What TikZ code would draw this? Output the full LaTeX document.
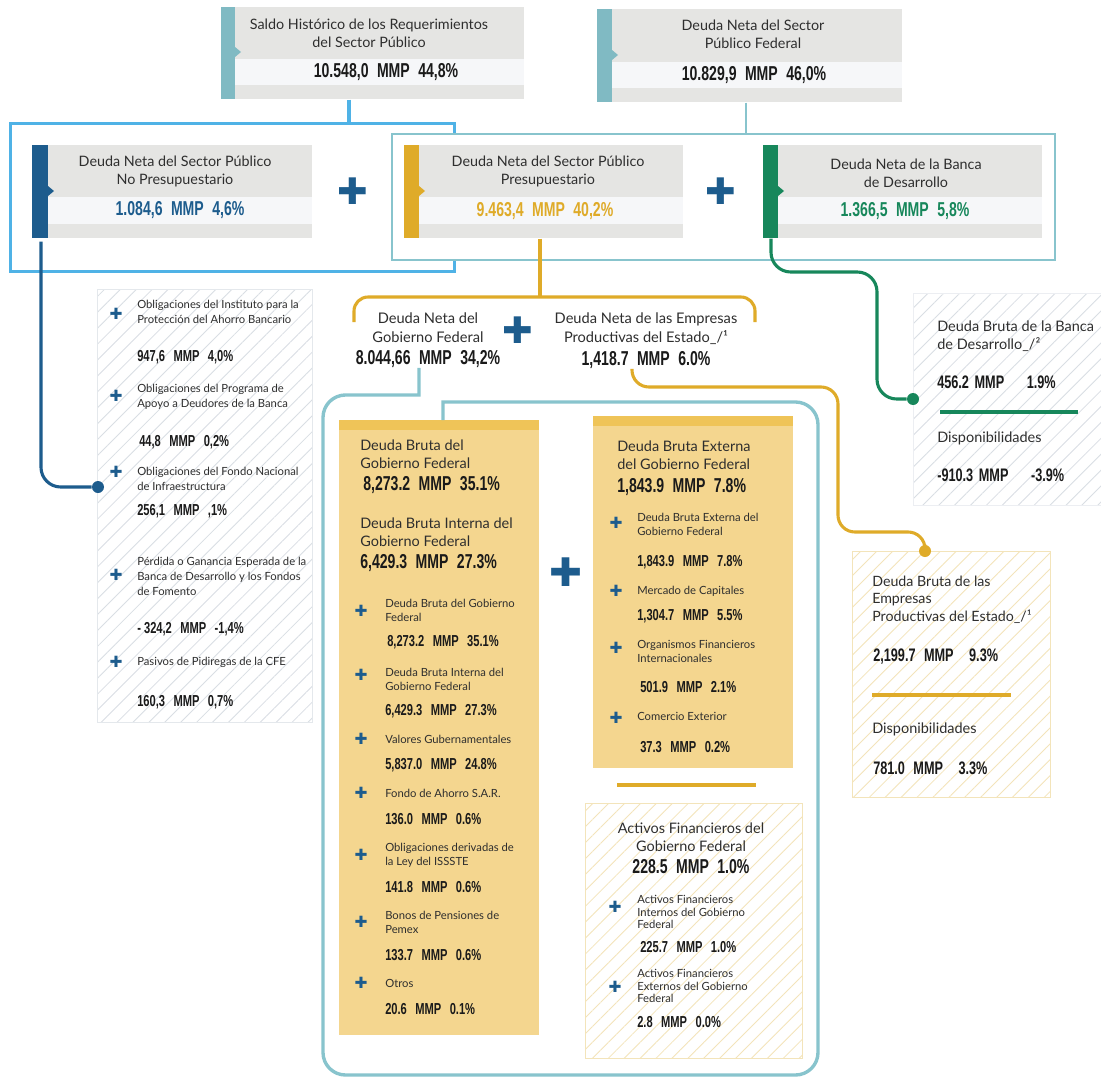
\documentclass[tikz,border=0pt]{standalone}
\usepackage{fontspec}
\setmainfont{Lato}
\newfontfamily\numfont[FakeStretch=0.7]{Liberation Sans}
\newfontfamily\symfont{DejaVu Sans}
\usepackage{tikz}
\usetikzlibrary{positioning,calc,patterns.meta}
\definecolor{tealbar}{HTML}{80BAC3}
\definecolor{tealln}{HTML}{88C4CD}
\definecolor{skyln}{HTML}{4FB2E6}
\definecolor{navy}{HTML}{1D5C8D}
\definecolor{mustard}{HTML}{DFAB29}
\definecolor{bgreen}{HTML}{17875B}
\definecolor{ylfill}{HTML}{F4D68F}
\definecolor{ylstripe}{HTML}{EFC458}
\definecolor{boxgray}{HTML}{E5E5E3}
\definecolor{bandwhite}{HTML}{F6F7F9}
\definecolor{hatchgray}{HTML}{D9DEE4}
\definecolor{hatchyl}{HTML}{F3E4BA}
\definecolor{ink}{HTML}{2E2E2E}
\definecolor{numink}{HTML}{1A1A1A}
\newdimen\px \px=0.025cm
\newcommand{\mmp}[2]{#1\hspace{6pt}MMP\hspace{6pt}#2}

\begin{document}
\begin{tikzpicture}[
    x=0.025cm, y=-0.025cm,
    hbox/.style={rectangle, fill=boxgray, inner sep=0, anchor=north west},
    ybox/.style={rectangle, fill=ylfill, inner sep=0, anchor=north west},
    hatch/.style={rectangle, inner sep=0, anchor=north west, line width=0.5pt, pattern={Lines[angle=45,distance=8pt,line width=0.6pt]}},
    frame/.style={rectangle, inner sep=0, anchor=north west},
    title/.style={align=center, inner sep=0, text=ink, font=\fontsize{10.2}{12.8}\selectfont},
    lead/.style={align=left, anchor=west, inner sep=0, text=ink, font=\fontsize{10.3}{12.6}\selectfont},
    item/.style={align=left, anchor=west, inner sep=0, text=ink, font=\fontsize{8}{10.6}\selectfont},
    bigval/.style={inner sep=0, text=numink, font=\numfont\bfseries\fontsize{14.3}{15}\selectfont},
    midval/.style={anchor=west, inner sep=0, text=numink, font=\numfont\bfseries\fontsize{12.9}{14}\selectfont},
    val/.style={anchor=west, inner sep=0, text=numink, font=\numfont\bfseries\fontsize{11.3}{12}\selectfont},
    plus/.style={inner sep=0, text=navy, font=\symfont\fontsize{11}{11}\selectfont},
    bigplus/.style={inner sep=0, text=navy, font=\symfont\fontsize{26}{26}\selectfont},
    dot/.style={circle, inner sep=0, minimum size=12\px},
    conn/.style={line width=2.2pt}
]
\path[fill=white] (0,0) rectangle (1101,1078);
\useasboundingbox (0,0) rectangle (1101,1078);

% Frames
\node[frame, draw=skyln, line width=2.2pt, minimum width=444\px, minimum height=148\px] (nfr) at (9,122) {};
\node[frame, draw=tealln, fill=white, line width=1.6pt, minimum width=663\px, minimum height=126\px] (tfr) at (391,133) {};

% Top boxes
\node[hbox, minimum width=303\px, minimum height=92\px] (saldo) at (221,7) {};
\fill[bandwhite] (235,59) rectangle (524,85);
\fill[tealbar] (saldo.north west) rectangle ++(14,92);
\fill[tealbar] (235,47) -- (241,52) -- (235,57) -- cycle;
\node[title] (saldot) at (369,33) {Saldo Histórico de los Requerimientos\\del Sector Público};
\node[bigval] (saldov) at (386,72) {\mmp{10.548,0}{44,8\%}};

\node[hbox, minimum width=305\px, minimum height=93\px] (federal) at (597,9) {};
\fill[bandwhite] (612,62) rectangle (902,88);
\fill[tealbar] (federal.north west) rectangle ++(15,93);
\fill[tealbar] (612,50) -- (618,55) -- (612,60) -- cycle;
\node[title] (federalt) at (753,34) {Deuda Neta del Sector\\Público Federal};
\node[bigval] (federalv) at (754,75) {\mmp{10.829,9}{46,0\%}};

\draw[conn, skyln] (saldo.south -| 349,0) -- (nfr.north -| 349,0);
\draw[conn, tealln, line width=1.6pt] (federal.south -| 746,0) -- (tfr.north -| 746,0);

% Second row
\node[hbox, minimum width=280\px, minimum height=93\px] (nopres) at (32,145) {};
\fill[bandwhite] (48,197) rectangle (312,224);
\fill[navy] (nopres.north west) rectangle ++(16,93);
\fill[navy] (48,186) -- (54,191) -- (48,196) -- cycle;
\node[title] (noprest) at (175,171) {Deuda Neta del Sector Público\\No Presupuestario};
\node[bigval, text=navy] (nopresv) at (180,210) {\mmp{1.084,6}{4,6\%}};

\node[hbox, minimum width=279\px, minimum height=93\px] (pres) at (404,145) {};
\fill[bandwhite] (419,197) rectangle (683,224);
\fill[mustard] (pres.north west) rectangle ++(15,93);
\fill[mustard] (419,186) -- (425,191) -- (419,196) -- cycle;
\node[title] (prest) at (548,171) {Deuda Neta del Sector Público\\Presupuestario};
\node[bigval, text=mustard] (presv) at (545,211) {\mmp{9.463,4}{40,2\%}};

\node[hbox, minimum width=279\px, minimum height=93\px] (banca) at (763,145) {};
\fill[bandwhite] (778,197) rectangle (1042,224);
\fill[bgreen] (banca.north west) rectangle ++(15,93);
\fill[bgreen] (778,186) -- (784,191) -- (778,196) -- cycle;
\node[title] (bancat) at (906,173) {Deuda Neta de la Banca\\de Desarrollo};
\node[bigval, text=bgreen] (bancav) at (905,211) {\mmp{1.366,5}{5,8\%}};

\node[bigplus] (plus1) at (353,191) {✚};
\node[bigplus] (plus2) at (721,191) {✚};

% Hatched boxes
\node[hatch, pattern color=hatchgray, draw=hatchgray!70, minimum width=215\px, minimum height=433\px] (oblig) at (97,289) {};
\node[hatch, pattern color=hatchgray, draw=hatchgray!50, minimum width=188\px, minimum height=212\px] (bdbox) at (913,293) {};
\node[hatch, pattern color=hatchyl, draw=hatchyl, minimum width=198\px, minimum height=246\px] (epbox) at (852,551) {};
\node[hatch, pattern color=hatchyl, draw=hatchyl, minimum width=217\px, minimum height=255\px] (activos) at (585,803) {};

% Yellow boxes
\node[ybox, minimum width=200\px, minimum height=615\px] (ybl) at (339,420) {};
\fill[ylstripe] (ybl.north west) rectangle ++(200,10);
\node[ybox, minimum width=200\px, minimum height=352\px] (ybr) at (593,416) {};
\fill[ylstripe] (ybr.north west) rectangle ++(200,10);
\node[bigplus, font=\symfont\fontsize{28}{28}\selectfont] (plus4) at (566,572) {✚};

% Middle level
\node[title, font=\fontsize{10.4}{13.5}\selectfont] (gfnet) at (428,327.5) {Deuda Neta del\\Gobierno Federal};
\node[bigval] (gfval) at (428,359) {\mmp{8.044,66}{34,2\%}};
\node[bigplus] (plus3) at (518,330) {✚};
\node[title, font=\fontsize{10.4}{13.5}\selectfont] (epnet) at (646,328.5) {Deuda Neta de las Empresas\\Productivas del Estado\_/¹};
\node[bigval] (epval) at (646,360) {\mmp{1,418.7}{6.0\%}};

% Dots
\node[dot, fill=navy] (dotnp) at (98,487) {};
\node[dot, fill=bgreen] (dotbd) at (913,399) {};
\node[dot, fill=mustard] (dotep) at (925,551) {};

% Connectors
\coordinate (brl) at (354,322);
\coordinate (brr) at (755,322);
\draw[conn, mustard] (pres.south -| 540,0) -- ++(0,59);
\draw[conn, mustard, rounded corners=10pt] (brl) -- ++(0,-25) -| (brr);
\draw[conn, navy, rounded corners=14pt] ($(nopres.south west)+(9,3)$) |- (dotnp);
\draw[conn, bgreen, rounded corners=14pt] ($(banca.south west)+(8,0)$) |- (877,272) |- (dotbd);
\draw[conn, mustard, rounded corners=12pt] (epval.south -| 632,0) |- (838,387) |- (925,532) -- (dotep);
\draw[conn, tealln, line width=2.4pt] (gfval.south -| 419,0) -- (419,395) -- (343,395) [rounded corners=16pt] -- (323,395) -- (323,1075) -- (818,1075) -- (818,402) [sharp corners] -- (443,402) -- (ybl.north -| 443,0);

% Left list
\node[plus] (o1p) at (116,314) {✚};
\node[item] (o1) at (137,312) {Obligaciones del Instituto para la\\Protección del Ahorro Bancario};
\node[val] (o1v) at (137,357) {\mmp{947,6}{4,0\%}};
\node[plus] (o2p) at (116,396) {✚};
\node[item] (o2) at (137,397) {Obligaciones del Programa de\\Apoyo a Deudores de la Banca};
\node[val] (o2v) at (139,442) {\mmp{44,8}{0,2\%}};
\node[plus] (o3p) at (116,472) {✚};
\node[item] (o3) at (137,479) {Obligaciones del Fondo Nacional\\de Infraestructura};
\node[val] (o3v) at (137,511) {\mmp{256,1}{,1\%}};
\node[plus] (o4p) at (116,575) {✚};
\node[item] (o4) at (137,576) {Pérdida o Ganancia Esperada de la\\Banca de Desarrollo y los Fondos\\de Fomento};
\node[val] (o4v) at (137,629) {\mmp{- 324,2}{-1,4\%}};
\node[plus] (o5p) at (116,662) {✚};
\node[item] (o5) at (137,662) {Pasivos de Pidiregas de la CFE};
\node[val] (o5v) at (137,702) {\mmp{160,3}{0,7\%}};

% Yellow left contents
\node[lead] (gfb) at (360,454.5) {Deuda Bruta del\\Gobierno Federal};
\node[bigval, anchor=west] (gfbv) at (363,485) {\mmp{8,273.2}{35.1\%}};
\node[lead] (gfi) at (360,532) {Deuda Bruta Interna del\\Gobierno Federal};
\node[bigval, anchor=west] (gfiv) at (360,563) {\mmp{6,429.3}{27.3\%}};
\node[plus] (l1p) at (361,611) {✚};
\node[item, font=\fontsize{8}{10}\selectfont] (l1) at (385,610) {Deuda Bruta del Gobierno\\Federal};
\node[val] (l1v) at (387,642) {\mmp{8,273.2}{35.1\%}};
\node[plus] (l2p) at (361,675) {✚};
\node[item, font=\fontsize{8}{10}\selectfont] (l2) at (385,679) {Deuda Bruta Interna del\\Gobierno Federal};
\node[val] (l2v) at (385,711) {\mmp{6,429.3}{27.3\%}};
\node[plus] (l3p) at (361,739) {✚};
\node[item] (l3) at (385,739) {Valores Gubernamentales};
\node[val] (l3v) at (385,765) {\mmp{5,837.0}{24.8\%}};
\node[plus] (l4p) at (361,793) {✚};
\node[item] (l4) at (385,793) {Fondo de Ahorro S.A.R.};
\node[val] (l4v) at (385,819) {\mmp{136.0}{0.6\%}};
\node[plus] (l5p) at (361,855) {✚};
\node[item, font=\fontsize{8}{10}\selectfont] (l5) at (385,855) {Obligaciones derivadas de\\la Ley del ISSSTE};
\node[val] (l5v) at (385,887) {\mmp{141.8}{0.6\%}};
\node[plus] (l6p) at (361,922) {✚};
\node[item, font=\fontsize{8}{10}\selectfont] (l6) at (385,922) {Bonos de Pensiones de\\Pemex};
\node[val] (l6v) at (385,955) {\mmp{133.7}{0.6\%}};
\node[plus] (l7p) at (361,983) {✚};
\node[item] (l7) at (385,983) {Otros};
\node[val] (l7v) at (385,1009) {\mmp{20.6}{0.1\%}};

% Yellow right contents
\node[lead] (gfe) at (617,455.5) {Deuda Bruta Externa\\del Gobierno Federal};
\node[bigval, anchor=west] (gfev) at (617,487) {\mmp{1,843.9}{7.8\%}};
\node[plus] (r1p) at (616,523) {✚};
\node[item, font=\fontsize{8}{10}\selectfont] (r1) at (637,524) {Deuda Bruta Externa del\\Gobierno Federal};
\node[val] (r1v) at (637,562) {\mmp{1,843.9}{7.8\%}};
\node[plus] (r2p) at (616,591) {✚};
\node[item] (r2) at (637,591) {Mercado de Capitales};
\node[val] (r2v) at (637,616) {\mmp{1,304.7}{5.5\%}};
\node[plus] (r3p) at (616,648) {✚};
\node[item, font=\fontsize{8}{10}\selectfont] (r3) at (637,651) {Organismos Financieros\\Internacionales};
\node[val] (r3v) at (640,687) {\mmp{501.9}{2.1\%}};
\node[plus] (r4p) at (616,718) {✚};
\node[item] (r4) at (637,716) {Comercio Exterior};
\node[val] (r4v) at (640,747) {\mmp{37.3}{0.2\%}};
\draw[mustard, line width=2.2pt] (617,785) -- (756,785);

% Activos
\node[title, font=\fontsize{10.3}{12.8}\selectfont] (act) at (691,837) {Activos Financieros del\\Gobierno Federal};
\node[bigval] (actv) at (691,867) {\mmp{228.5}{1.0\%}};
\node[plus] (a1p) at (615,907) {✚};
\node[item, font=\fontsize{8}{9}\selectfont] (a1) at (637,912) {Activos Financieros\\Internos del Gobierno\\Federal};
\node[val] (a1v) at (640,947) {\mmp{225.7}{1.0\%}};
\node[plus] (a2p) at (615,987) {✚};
\node[item, font=\fontsize{8}{9}\selectfont] (a2) at (637,986) {Activos Financieros\\Externos del Gobierno\\Federal};
\node[val] (a2v) at (637,1022) {\mmp{2.8}{0.0\%}};

% Right boxes
\node[lead] (bdb) at (937,336) {Deuda Bruta de la Banca\\de Desarrollo\_/²};
\node[midval] (bdbv) at (937,382) {456.2\hspace{4pt}MMP\hspace{16pt}1.9\%};
\draw[bgreen, line width=2.2pt] (940,412) -- (1078,412);
\node[lead] (bdd) at (937,438) {Disponibilidades};
\node[midval] (bddv) at (937,475) {-910.3\hspace{4pt}MMP\hspace{16pt}-3.9\%};

\node[lead, font=\fontsize{10.1}{12.4}\selectfont] (epb) at (872,599.5) {Deuda Bruta de las\\Empresas\\Productivas del Estado\_/¹};
\node[midval] (epbv) at (873,657) {\mmp{2,199.7}{\hspace{5pt}9.3\%}};
\draw[mustard, line width=2.2pt] (872,695) -- (1011,695);
\node[lead] (epd) at (872,729) {Disponibilidades};
\node[midval] (epdv) at (873,768) {\mmp{781.0}{\hspace{5pt}3.3\%}};
\end{tikzpicture}
\end{document}
